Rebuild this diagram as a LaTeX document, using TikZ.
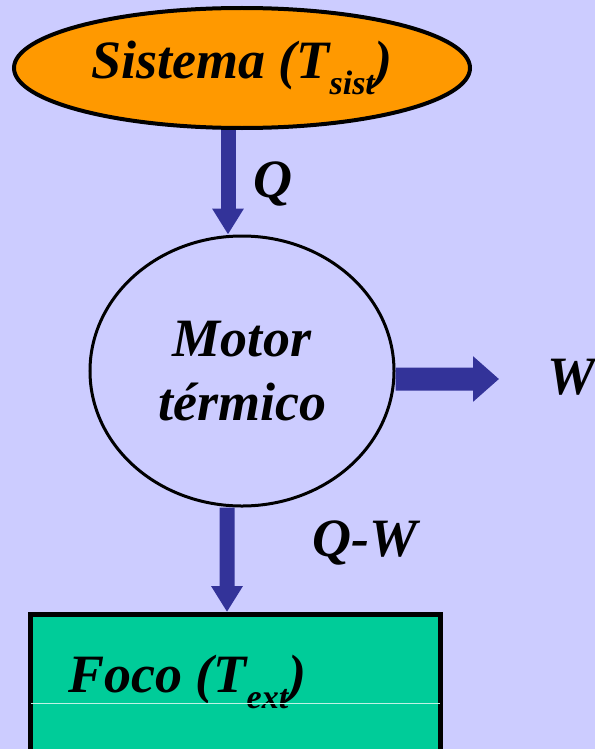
\documentclass[tikz,border=0pt]{standalone}
\usepackage{fontspec}
\setmainfont{Liberation Serif}
\usetikzlibrary{shapes.geometric, arrows.meta, positioning, calc}

\definecolor{fondo}{RGB}{204,204,255}
\definecolor{naranja}{RGB}{255,153,0}
\definecolor{verde}{RGB}{0,204,153}
\definecolor{flecha}{RGB}{51,51,153}
\newcommand{\bajo}[1]{\raisebox{-0.3em}{\fontsize{34bp}{34bp}\selectfont #1}}

\begin{document}
\begin{tikzpicture}[x=1bp, y=-1bp, node distance=104.5bp]
        \tikzstyle{texto} = [font=\fontsize{54bp}{64bp}\selectfont\bfseries\itshape, inner sep=0pt]
        \tikzstyle{sistemabox} = [ellipse, draw=black, line width=4bp, fill=naranja, minimum width=456bp, minimum height=120bp, texto]
        \tikzstyle{motorbox} = [ellipse, draw=black, line width=3bp, minimum width=304bp, minimum height=270bp, align=center, texto]
        \tikzstyle{focobox} = [rectangle, draw=black, line width=5bp, fill=verde, minimum width=409bp, minimum height=185.5bp, inner sep=0pt]
        \tikzstyle{flechav} = [draw=flecha, line width=15bp, -{Triangle[length=26bp, width=30bp]}]
        \tikzstyle{flechah} = [draw=flecha, line width=23bp, -{Triangle[length=26bp, width=44bp]}]

        \useasboundingbox (0,0) rectangle (595,749);
        \fill[fondo] (0,0) rectangle (595,749);

        \node (sistema) [sistemabox] at (242,68) {Sistema (T\bajo{sist})};
        \node (motor) [motorbox, below=of sistema] {Motor\\térmico};
        \node (foco) [focobox, below=of motor, xshift=-6.5bp] {};
        \node (focotxt) [texto, anchor=base west] at (68,692) {Foco (T\bajo{ext})};
        \draw[white!75!verde, line width=1bp] ($(foco.west)+(2.5,-4)$) -- ($(foco.east)+(-2.5,-4)$);
        \coordinate (wtip) at (499,379);

        \draw [flechav] ($(sistema.south)+(-14,0)$) -- ($(motor.north)+(-14,0)$);
        \draw [flechah] ($(motor.east)+(0,8)$) -- (wtip);
        \draw [flechav] ($(motor.south)+(-15,0)$) -- ($(foco.north)+(-8.5,0)$);

        \node (q) [texto, anchor=base] at (273,197) {Q};
        \node (w) [texto, anchor=base] at (571,394) {W};
        \node (qw) [texto, anchor=base] at (365,556) {Q-W};
    \end{tikzpicture}
\end{document}
